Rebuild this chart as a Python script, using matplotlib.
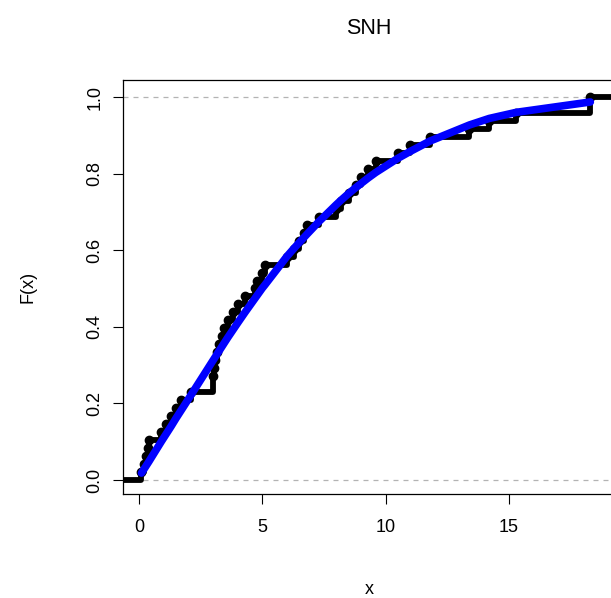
import numpy as np
import matplotlib
matplotlib.use('Agg')
from matplotlib import pyplot

obs = [0.1, 0.2, 0.3, 0.35, 0.4, 0.9, 1.1, 1.3, 1.5, 1.7, 2.1,
       3.0, 3.0, 3.05, 3.1, 3.15, 3.25, 3.35, 3.45, 3.6, 3.8, 4.0, 4.3,
       4.7, 4.8, 5.0, 5.1, 6.0, 6.3, 6.5, 6.7, 6.8, 7.3,
       8.0, 8.2, 8.5, 8.8, 9.0, 9.3, 9.6, 10.5, 11.0, 11.8,
       13.4, 14.2, 15.3, 18.3, 18.3]

# fitted CDF evaluated at the distinct sample values (blue curve)
fit_x = [0.1, 0.2, 0.3, 0.35, 0.4, 0.9, 1.1, 1.3, 1.5, 1.7, 2.1,
         3.0, 3.05, 3.1, 3.15, 3.25, 3.35, 3.45, 3.6, 3.8, 4.0, 4.3,
         4.7, 4.8, 5.0, 5.1, 6.0, 6.3, 6.5, 6.7, 6.8, 7.3,
         8.0, 8.2, 8.5, 8.8, 9.0, 9.3, 9.6, 10.5, 11.0, 11.8,
         13.4, 14.2, 15.3, 18.3]
fit_F = [0.018, 0.028, 0.038, 0.043, 0.048, 0.10, 0.12, 0.14, 0.161, 0.181, 0.221,
         0.312, 0.317, 0.322, 0.327, 0.337, 0.347, 0.357, 0.372, 0.391, 0.410, 0.438,
         0.474, 0.483, 0.501, 0.509, 0.584, 0.606, 0.620, 0.634, 0.641, 0.675,
         0.719, 0.731, 0.748, 0.764, 0.774, 0.789, 0.803, 0.84, 0.858, 0.885,
         0.927, 0.944, 0.96, 0.987]

xticks = [0, 5, 10, 15]
yticks = [0.0, 0.2, 0.4, 0.6, 0.8, 1.0]

pyplot.rcParams['font.family'] = ['Liberation Sans', 'DejaVu Sans']

fig = pyplot.figure(figsize=(6.11, 5.98), dpi=100)
ax = fig.add_axes([123 / 611, 1 - 494 / 598, (615 - 123) / 611, (494 - 80) / 598])
xlo, xhi = -0.649, 19.30
ax.set_xlim(xlo, xhi)
ax.set_ylim(-0.0366, 1.0444)

# reference lines
ax.axhline(0, color='#b3b3b3', linestyle=(0, (4, 4)), linewidth=0.9, zorder=1)
ax.axhline(1, color='#b3b3b3', linestyle=(0, (4, 4)), linewidth=0.9, zorder=1)

# empirical CDF
vals, counts = np.unique(obs, return_counts=True)
F = np.cumsum(counts) / len(obs)
sx = np.concatenate([[xlo - 1], vals, [xhi + 1]])
sy = np.concatenate([[0], F, [1]])
ax.step(sx, sy, where='post', color='black', linewidth=4.2, zorder=2,
        solid_joinstyle='round')
ax.plot(vals, F, 'o', color='black', markersize=6, zorder=2)

# fitted CDF
ax.plot(fit_x, fit_F, color='#0000ff', linewidth=5.5, zorder=3,
        solid_capstyle='round', solid_joinstyle='round')

ax.set_xticks(xticks)
ax.set_xticklabels([str(t) for t in xticks])
ax.set_yticks(yticks)
ax.set_yticklabels(['%.1f' % t for t in yticks], rotation=90, va='center')
ax.tick_params(axis='both', direction='out', length=7, width=0.8,
               labelsize=13, color='black')
ax.tick_params(axis='x', pad=11)
ax.tick_params(axis='y', pad=7)
for s in ax.spines.values():
    s.set_linewidth(0.9)
    s.set_color('black')

fig.text(369 / 611, 1 - 28 / 598, 'SNH', ha='center', va='center', fontsize=15.5)
fig.text(369 / 611, 1 - 590 / 598, 'x', ha='center', va='center', fontsize=13)
fig.text(28 / 611, 1 - 287 / 598, 'F(x)', ha='center', va='center', fontsize=13,
         rotation=90)

fig.savefig('out.png', dpi=100, facecolor='white')
